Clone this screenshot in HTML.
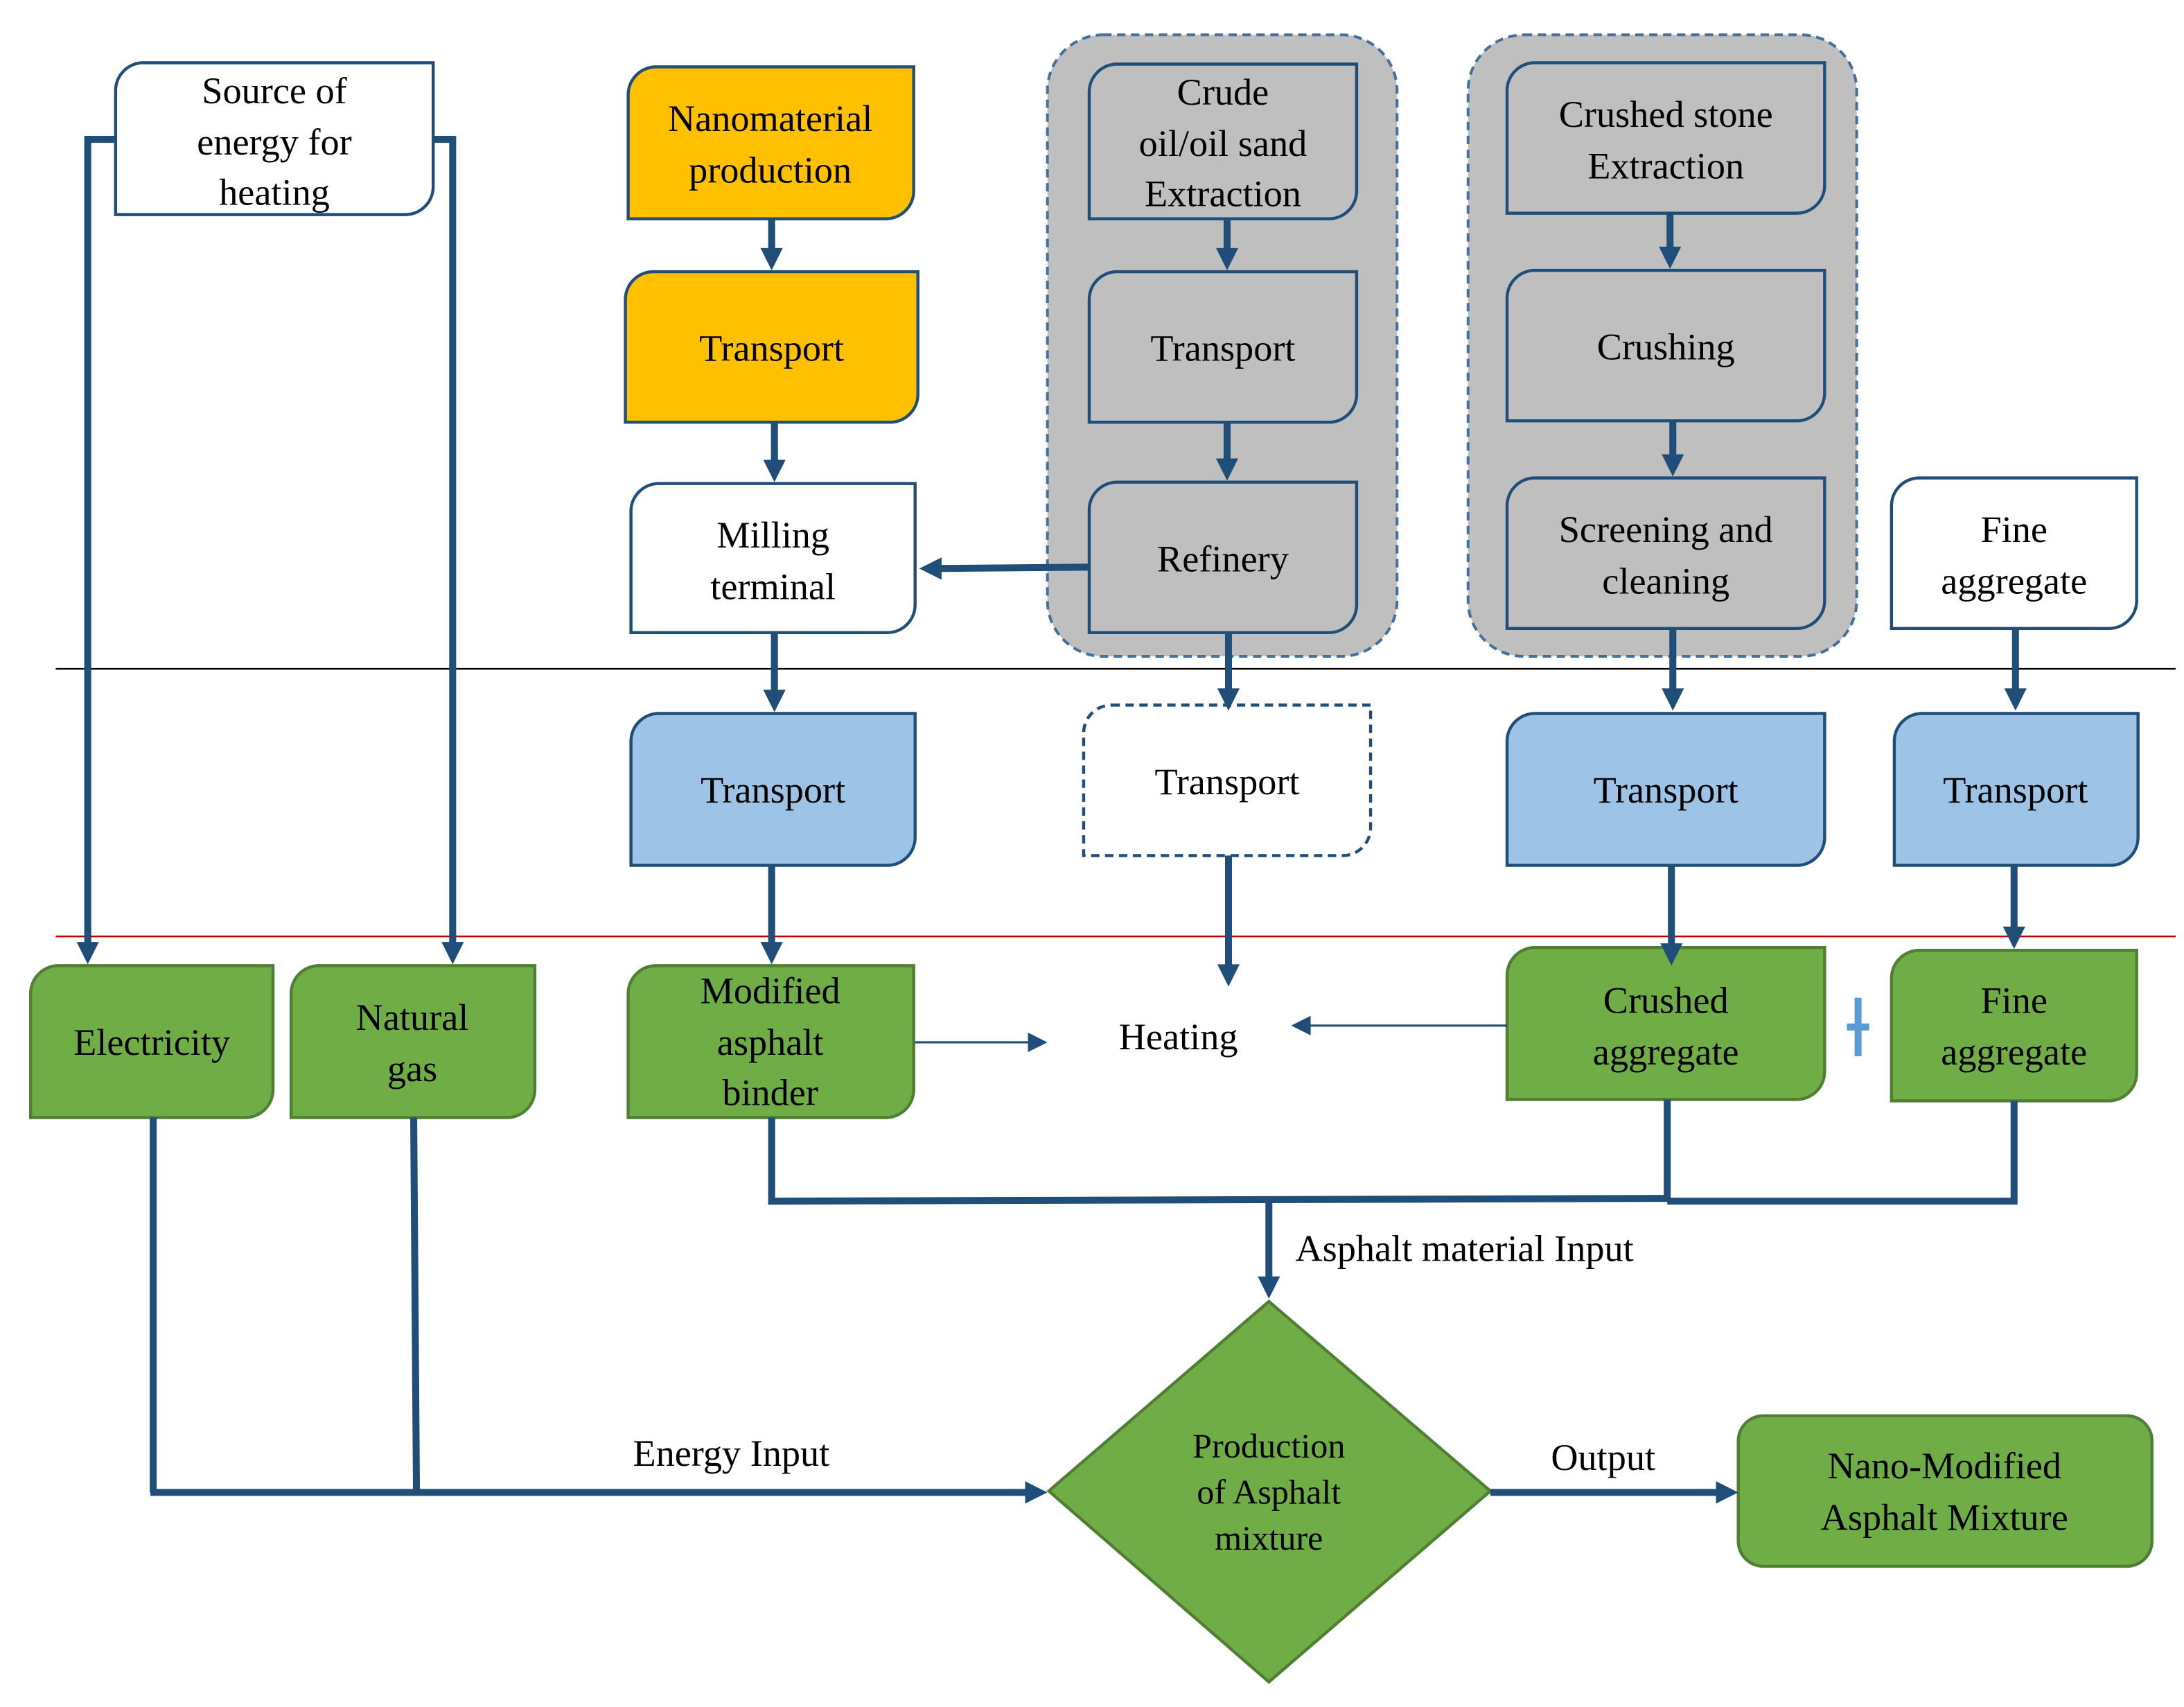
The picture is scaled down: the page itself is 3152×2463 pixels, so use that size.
<!DOCTYPE html>
<html><head><meta charset="utf-8"><style>
html,body{margin:0;padding:0;background:#fff}
svg{display:block}
text{font-family:"Liberation Serif","Times New Roman","DejaVu Serif",serif;font-size:27px;fill:#000;text-anchor:middle}
</style></head><body>
<svg width="3152" height="2463" viewBox="0 0 1568 1225" preserveAspectRatio="none" xmlns="http://www.w3.org/2000/svg">
<line x1="40" y1="480" x2="1562" y2="480" stroke="#000" stroke-width="1.2"/>
<line x1="40" y1="672" x2="1562" y2="672" stroke="#C00000" stroke-width="1.2"/>
<rect x="752" y="25" width="251" height="446" rx="40" fill="#BFBFBF" stroke="#41719C" stroke-width="2" stroke-dasharray="6,4"/>
<rect x="1054" y="25" width="279" height="446" rx="40" fill="#BFBFBF" stroke="#41719C" stroke-width="2" stroke-dasharray="6,4"/>
<g stroke="#1F4E79" stroke-width="2.2">
<path d="M103,45 H311 V134 a20,20 0 0 1 -20,20 H83 V65 a20,20 0 0 1 20,-20z" fill="#fff"/>
<path d="M471,48 H656 V137 a20,20 0 0 1 -20,20 H451 V68 a20,20 0 0 1 20,-20z" fill="#FFC000"/>
<path d="M469,195 H659 V283 a20,20 0 0 1 -20,20 H449 V215 a20,20 0 0 1 20,-20z" fill="#FFC000"/>
<path d="M473,347 H657 V434 a20,20 0 0 1 -20,20 H453 V367 a20,20 0 0 1 20,-20z" fill="#fff"/>
<path d="M802,46 H974 V137 a20,20 0 0 1 -20,20 H782 V66 a20,20 0 0 1 20,-20z" fill="#BFBFBF"/>
<path d="M802,195 H974 V283 a20,20 0 0 1 -20,20 H782 V215 a20,20 0 0 1 20,-20z" fill="#BFBFBF"/>
<path d="M802,346 H974 V434 a20,20 0 0 1 -20,20 H782 V366 a20,20 0 0 1 20,-20z" fill="#BFBFBF"/>
<path d="M1102,45 H1310 V133 a20,20 0 0 1 -20,20 H1082 V65 a20,20 0 0 1 20,-20z" fill="#BFBFBF"/>
<path d="M1102,194 H1310 V282 a20,20 0 0 1 -20,20 H1082 V214 a20,20 0 0 1 20,-20z" fill="#BFBFBF"/>
<path d="M1102,343 H1310 V431 a20,20 0 0 1 -20,20 H1082 V363 a20,20 0 0 1 20,-20z" fill="#BFBFBF"/>
<path d="M1378,343 H1534 V431 a20,20 0 0 1 -20,20 H1358 V363 a20,20 0 0 1 20,-20z" fill="#fff"/>
<path d="M473,512 H657 V601 a20,20 0 0 1 -20,20 H453 V532 a20,20 0 0 1 20,-20z" fill="#9DC3E6"/>
<path d="M1102,512 H1310 V601 a20,20 0 0 1 -20,20 H1082 V532 a20,20 0 0 1 20,-20z" fill="#9DC3E6"/>
<path d="M1380,512 H1535 V601 a20,20 0 0 1 -20,20 H1360 V532 a20,20 0 0 1 20,-20z" fill="#9DC3E6"/>
<path d="M798,506 H984 V594 a20,20 0 0 1 -20,20 H778 V526 a20,20 0 0 1 20,-20z" fill="#fff" stroke-dasharray="6,4"/>
</g>
<g stroke="#507E32" stroke-width="2.2" fill="#70AD47">
<path d="M42,693 H196 V782 a20,20 0 0 1 -20,20 H22 V713 a20,20 0 0 1 20,-20z"/>
<path d="M229,693 H384 V782 a20,20 0 0 1 -20,20 H209 V713 a20,20 0 0 1 20,-20z"/>
<path d="M471,693 H656 V782 a20,20 0 0 1 -20,20 H451 V713 a20,20 0 0 1 20,-20z"/>
<path d="M1102,680 H1310 V769 a20,20 0 0 1 -20,20 H1082 V700 a20,20 0 0 1 20,-20z"/>
<path d="M1378,682 H1534 V770 a20,20 0 0 1 -20,20 H1358 V702 a20,20 0 0 1 20,-20z"/>
<rect x="1248" y="1016" width="297" height="108" rx="18"/>
<path d="M911,934 L1070,1070 L911,1207 L753,1070 z"/>
</g>
<g fill="none" stroke="#1F4E79" stroke-width="5">
<polyline points="84,100 63,100 63,680"/>
<polyline points="310,100 325,100 325,680"/>
<line x1="110" y1="802" x2="110" y2="1071"/>
<line x1="297" y1="802" x2="299" y2="1071"/>
<line x1="108" y1="1071" x2="740" y2="1071"/>
<line x1="1070" y1="1071" x2="1236" y2="1071"/>
<polyline points="554,802 554,862 1197,860"/>
<line x1="1197" y1="789" x2="1197" y2="862"/>
<polyline points="1446,790 1446,862 1197,862"/>
<line x1="911" y1="860" x2="911" y2="920"/>
<line x1="554" y1="157" x2="554" y2="182"/>
<line x1="556" y1="303" x2="556" y2="334"/>
<line x1="556" y1="454" x2="556" y2="499"/>
<line x1="554" y1="621" x2="554" y2="680"/>
<line x1="782" y1="407" x2="672" y2="408"/>
<line x1="881" y1="157" x2="881" y2="182"/>
<line x1="881" y1="303" x2="881" y2="333"/>
<line x1="882" y1="454" x2="882" y2="498"/>
<line x1="882" y1="614" x2="882" y2="696"/>
<line x1="1199" y1="153" x2="1199" y2="181"/>
<line x1="1201" y1="302" x2="1201" y2="330"/>
<line x1="1201" y1="451" x2="1201" y2="498"/>
<line x1="1447" y1="451" x2="1447" y2="498"/>
<line x1="1200" y1="621" x2="1200" y2="681"/>
<line x1="1446" y1="621" x2="1446" y2="669"/>
</g>
<g fill="#1F4E79">
<polygon points="55,676 71,676 63,692"/>
<polygon points="317,676 333,676 325,692"/>
<polygon points="903,916 919,916 911,932"/>
<polygon points="546,178 562,178 554,194"/>
<polygon points="548,330 564,330 556,346"/>
<polygon points="548,495 564,495 556,511"/>
<polygon points="546,676 562,676 554,692"/>
<polygon points="873,178 889,178 881,194"/>
<polygon points="873,329 889,329 881,345"/>
<polygon points="874,494 890,494 882,510"/>
<polygon points="874,692 890,692 882,708"/>
<polygon points="1191,177 1207,177 1199,193"/>
<polygon points="1193,326 1209,326 1201,342"/>
<polygon points="1193,494 1209,494 1201,510"/>
<polygon points="1439,494 1455,494 1447,510"/>
<polygon points="1192,677 1208,677 1200,693"/>
<polygon points="1438,665 1454,665 1446,681"/>
<polygon points="736,1063 736,1079 752,1071"/>
<polygon points="1232,1063 1232,1079 1248,1071"/>
<polygon points="676,400 676,416 660,408"/>
<polygon points="738,741 738,755 752,748"/>
<polygon points="941,729 941,743 927,736"/>
</g>
<g fill="none" stroke="#1F4E79" stroke-width="1.5">
<line x1="657" y1="748" x2="740" y2="748"/>
<line x1="1082" y1="736" x2="938" y2="736"/>
</g>
<path d="M1334,716 V758 M1326,737 H1342" stroke="#5B9BD5" stroke-width="5" fill="none"/>
<text x="197" y="74">Source of</text><text x="197" y="111">energy for</text><text x="197" y="147">heating</text>
<text x="553" y="94">Nanomaterial</text><text x="553" y="131">production</text>
<text x="554" y="259">Transport</text>
<text x="555" y="393">Milling</text><text x="555" y="430">terminal</text>
<text x="878" y="75">Crude</text><text x="878" y="112">oil/oil sand</text><text x="878" y="148">Extraction</text>
<text x="878" y="259">Transport</text>
<text x="878" y="410">Refinery</text>
<text x="1196" y="91">Crushed stone</text><text x="1196" y="128">Extraction</text>
<text x="1196" y="258">Crushing</text>
<text x="1196" y="389">Screening and</text><text x="1196" y="426">cleaning</text>
<text x="1446" y="389">Fine</text><text x="1446" y="426">aggregate</text>
<text x="555" y="576">Transport</text>
<text x="881" y="570">Transport</text>
<text x="1196" y="576">Transport</text>
<text x="1447" y="576">Transport</text>
<text x="109" y="757">Electricity</text>
<text x="296" y="739">Natural</text><text x="296" y="776">gas</text>
<text x="553" y="720">Modified</text><text x="553" y="757">asphalt</text><text x="553" y="793">binder</text>
<text x="846" y="753">Heating</text>
<text x="1196" y="727">Crushed</text><text x="1196" y="764">aggregate</text>
<text x="1446" y="727">Fine</text><text x="1446" y="764">aggregate</text>
<text x="930" y="905" style="text-anchor:start">Asphalt material Input</text>
<text x="525" y="1052">Energy Input</text>
<text x="1151" y="1055">Output</text>
<text x="911" y="1046" style="font-size:25px">Production</text><text x="911" y="1079" style="font-size:25px">of Asphalt</text><text x="911" y="1112" style="font-size:25px">mixture</text>
<text x="1396" y="1061">Nano-Modified</text><text x="1396" y="1098">Asphalt Mixture</text>
</svg>
</body></html>
